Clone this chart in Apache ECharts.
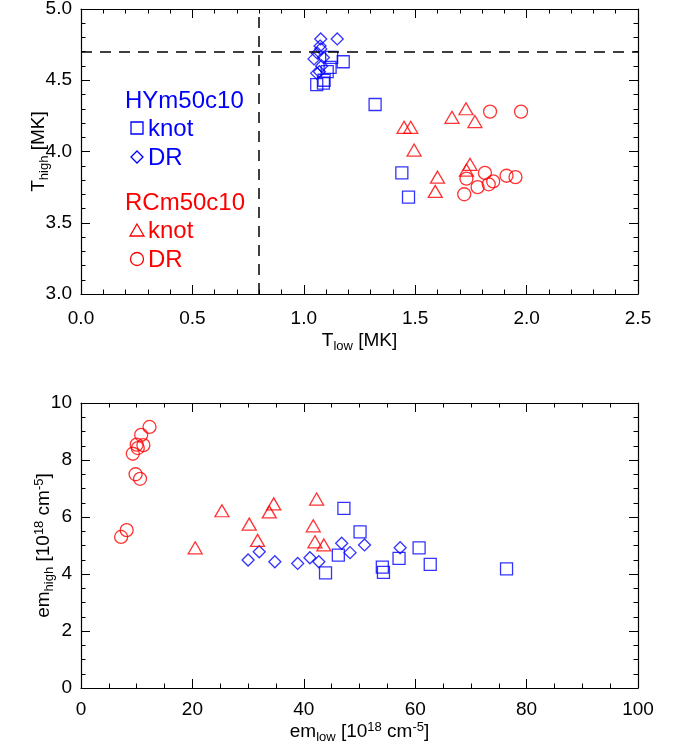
<!DOCTYPE html>
<html>
<head>
<meta charset="utf-8">
<script src="https://cdn.jsdelivr.net/npm/echarts@6/dist/echarts.min.js"></script>
<style>html,body{margin:0;padding:0;background:#fff;}#c{width:683px;height:747px;}</style>
</head>
<body>
<div id="c"></div>
<script>
// ---- Top panel: T_low vs T_high [MK] ----
const hyKnotTlow  = [1.177, 1.125, 1.118, 1.105, 1.091, 1.058, 1.088, 1.32, 1.44, 1.47];
const hyKnotThigh = [4.63, 4.66, 4.59, 4.56, 4.50, 4.47, 4.48, 4.33, 3.85, 3.68];
const hyDrTlow    = [1.076, 1.150, 1.073, 1.076, 1.061, 1.088, 1.046, 1.080, 1.070, 1.058];
const hyDrThigh   = [4.79, 4.79, 4.74, 4.72, 4.69, 4.66, 4.65, 4.60, 4.56, 4.55];
const rcKnotTlow  = [1.728, 1.665, 1.768, 1.45, 1.48, 1.495, 1.746, 1.73, 1.60, 1.59];
const rcKnotThigh = [4.30, 4.24, 4.21, 4.17, 4.17, 4.01, 3.91, 3.87, 3.82, 3.72];
const rcDrTlow    = [1.836, 1.975, 1.813, 1.73, 1.85, 1.91, 1.95, 1.78, 1.83, 1.72];
const rcDrThigh   = [4.28, 4.28, 3.85, 3.81, 3.79, 3.83, 3.82, 3.75, 3.77, 3.70];
const refTlow = 0.8, refThigh = 4.7;

// ---- Bottom panel: em_low vs em_high [1e18 cm^-5] ----
const hyKnotEmLow  = [47.2, 50.1, 46.2, 43.9, 54.1, 54.3, 57.1, 60.7, 62.7, 76.4];
const hyKnotEmHigh = [6.30, 5.48, 4.66, 4.04, 4.24, 4.06, 4.55, 4.92, 4.34, 4.18];
const hyDrEmLow    = [30.0, 32.0, 34.8, 38.9, 41.1, 42.7, 46.8, 48.3, 50.9, 57.3];
const hyDrEmHigh   = [4.49, 4.78, 4.43, 4.37, 4.57, 4.43, 5.08, 4.75, 5.02, 4.92];
const rcKnotEmLow  = [25.3, 20.5, 30.2, 31.7, 34.6, 33.8, 42.3, 41.7, 42.0, 43.6];
const rcKnotEmHigh = [6.22, 4.92, 5.75, 5.18, 6.46, 6.18, 6.63, 5.69, 5.13, 5.02];
const rcDrEmLow    = [12.3, 10.8, 10.0, 11.2, 10.2, 9.3, 9.8, 10.6, 8.2, 7.2];
const rcDrEmHigh   = [9.16, 8.88, 8.54, 8.52, 8.42, 8.22, 7.50, 7.34, 5.54, 5.30];

const legendGroups = ['HYm50c10', 'RCm50c10'];
const legendItems = ['knot', 'DR'];

const BLUE = '#0000ff', RED = '#ff0000';
const FONT = 'Liberation Sans';
const zip = (a, b) => a.map((v, i) => [v, b[i]]);

const tickLabel = {color:'#000', fontFamily:FONT, fontSize:19};
function mkAxis(gridIndex, position, min, max, interval, minorSplit, showLabel, fmt, margin, name, nameGap) {
  const ax = {
    type:'value', gridIndex, position, min, max, interval,
    axisLine:{show:true, onZero:false, lineStyle:{color:'#000', width:1.2}},
    axisTick:{show:true, inside:true, length:9, lineStyle:{color:'#000', width:1}},
    minorTick:{show:true, splitNumber:minorSplit, length:4.5, lineStyle:{color:'#000', width:1}},
    splitLine:{show:false},
    axisLabel:Object.assign({show:showLabel, margin:margin, formatter:fmt}, tickLabel)
  };
  if (name) {
    ax.name = name; ax.nameLocation = 'middle'; ax.nameGap = nameGap;
    ax.nameMoveOverlap = false;
    ax.nameTextStyle = {
      color:'#000', fontFamily:FONT, fontSize:19,
      rich:{
        a:{fontFamily:FONT, fontSize:19, color:'#000'},
        sub:{fontFamily:FONT, fontSize:13, color:'#000', padding:[11,0,0,0]},
        sup:{fontFamily:FONT, fontSize:13, color:'#000', padding:[0,0,10,0]}
      }
    };
  }
  return ax;
}
const f1 = v => v.toFixed(1);
const f0 = v => String(Math.round(v));

function scat(name, x, y, xi, yi, symbol, size, color) {
  return {
    type:'scatter', name, xAxisIndex:xi, yAxisIndex:yi, data:zip(x, y),
    symbol, symbolSize:size, silent:true,
    itemStyle:{color:'rgba(0,0,0,0)', borderColor:color, borderWidth:1.3}
  };
}

const chart = echarts.init(document.getElementById('c'), null, {renderer:'canvas'});
const lx = 125;
const LF = '24px "Liberation Sans"';
chart.setOption({
  animation:false,
  backgroundColor:'#fff',
  grid:[
    {left:81, right:45, top:9, bottom:453, containLabel:false, outerBoundsMode:'none'},
    {left:81, right:45, top:403, bottom:59, containLabel:false, outerBoundsMode:'none'}
  ],
  xAxis:[
    mkAxis(0,'bottom',0,2.5,0.5,5,true,f1,15,'{a|T}{sub|low}{a| [MK]}',35),
    mkAxis(0,'top',0,2.5,0.5,5,false,f1,9),
    mkAxis(1,'bottom',0,100,20,4,true,f0,12,'{a|em}{sub|low}{a| [10}{sup|18}{a| cm}{sup|-5}{a|]}',32),
    mkAxis(1,'top',0,100,20,4,false,f0,9)
  ],
  yAxis:[
    mkAxis(0,'left',3,5,0.5,5,true,f1,9,'{a|T}{sub|high}{a| [MK]}',30),
    mkAxis(0,'right',3,5,0.5,5,false,f1,9),
    mkAxis(1,'left',0,10,2,4,true,f0,9,'{a|em}{sub|high}{a| [10}{sup|18}{a| cm}{sup|-5}{a|]}',25),
    mkAxis(1,'right',0,10,2,4,false,f0,9)
  ],
  series:[
    Object.assign(scat('HY knot', hyKnotTlow, hyKnotThigh, 0, 0, 'rect', 12, BLUE), {
      markLine:{silent:true, symbol:['none','none'], label:{show:false}, animation:false,
        lineStyle:{color:'#000', type:[11,8], width:1.5},
        data:[{xAxis:refTlow}, {yAxis:refThigh}]}
    }),
    scat('HY DR', hyDrTlow, hyDrThigh, 0, 0, 'diamond', 12, BLUE),
    scat('RC knot', rcKnotTlow, rcKnotThigh, 0, 0, 'triangle', [14,12], RED),
    scat('RC DR', rcDrTlow, rcDrThigh, 0, 0, 'circle', 13, RED),
    scat('HY knot', hyKnotEmLow, hyKnotEmHigh, 2, 2, 'rect', 12, BLUE),
    scat('HY DR', hyDrEmLow, hyDrEmHigh, 2, 2, 'diamond', 12, BLUE),
    scat('RC knot', rcKnotEmLow, rcKnotEmHigh, 2, 2, 'triangle', [14,12], RED),
    scat('RC DR', rcDrEmLow, rcDrEmHigh, 2, 2, 'circle', 13, RED)
  ],
  graphic:[
    {type:'text', left:lx, top:89, style:{text:legendGroups[0], fill:BLUE, font:LF}},
    {type:'rect', shape:{x:131, y:122, width:12, height:12}, style:{fill:'none', stroke:BLUE, lineWidth:1.3}},
    {type:'text', left:148, top:117, style:{text:legendItems[0], fill:BLUE, font:LF}},
    {type:'polygon', shape:{points:[[137,151],[143,157],[137,163],[131,157]]}, style:{fill:'none', stroke:BLUE, lineWidth:1.3}},
    {type:'text', left:148, top:146, style:{text:legendItems[1], fill:BLUE, font:LF}},
    {type:'text', left:lx, top:191, style:{text:legendGroups[1], fill:RED, font:LF}},
    {type:'polygon', shape:{points:[[137,224],[144,236],[130,236]]}, style:{fill:'none', stroke:RED, lineWidth:1.3}},
    {type:'text', left:148, top:219, style:{text:legendItems[0], fill:RED, font:LF}},
    {type:'circle', shape:{cx:137, cy:259, r:6.5}, style:{fill:'none', stroke:RED, lineWidth:1.3}},
    {type:'text', left:148, top:248, style:{text:legendItems[1], fill:RED, font:LF}}
  ]
});
</script>
</body>
</html>
